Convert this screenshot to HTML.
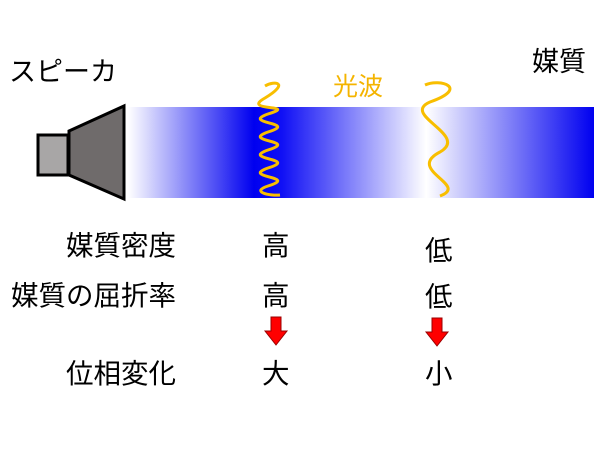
<!DOCTYPE html>
<html><head><meta charset="utf-8"><style>
html,body{margin:0;padding:0;background:#fff;}
svg{display:block}
text{font-family:"Liberation Sans","Noto Sans CJK JP",sans-serif;}
</style></head><body>
<svg width="600" height="450" viewBox="0 0 600 450">
<defs>
<linearGradient id="g" x1="128" x2="594" y1="0" y2="0" gradientUnits="userSpaceOnUse">
<stop offset="0" stop-color="#fff"/>
<stop offset="0.27" stop-color="#0000f0"/>
<stop offset="0.33" stop-color="#1010f5"/>
<stop offset="0.64" stop-color="#ffffff"/>
<stop offset="1" stop-color="#0000f0"/>
</linearGradient>
</defs>
<rect x="128" y="107" width="466" height="91" fill="url(#g)"/>
<rect x="43" y="147" width="30" height="40" fill="#a8a6a6" stroke="#000" stroke-width="3" transform="translate(-5,-12)"/>
<polygon points="69,131 124,106 124,199 69,175" fill="#6f6b6b" stroke="#000" stroke-width="3"/>
<path d="M265,86 C275,80 290,83 265,98 C240,112 300,104 268,114 C240,124 300,122 268,132 C240,142 300,140 268,150 C240,160 300,158 268,168 C240,178 300,176 268,186 C250,192 270,196 280,195" fill="none" stroke="#f8be00" stroke-width="3"/>
<path d="M425,85 C440,78 470,88 430,102 C400,115 470,135 440,152 C405,170 470,185 440,196" fill="none" stroke="#f8be00" stroke-width="3"/>
<text x="9" y="81" font-size="27" fill="#000">スピーカ</text>
<text x="532" y="71" font-size="27" fill="#000">媒質</text>
<text x="333" y="95" font-size="25" fill="#f4b400">光波</text>
<g font-size="27.5" fill="#000">
<text x="176" y="255" text-anchor="end">媒質密度</text>
<text x="176" y="305" text-anchor="end">媒質の屈折率</text>
<text x="176" y="383" text-anchor="end">位相変化</text>
<text x="262" y="255">高</text>
<text x="262" y="305">高</text>
<text x="262" y="383">大</text>
<text x="425" y="260">低</text>
<text x="425" y="306">低</text>
<text x="425" y="383">小</text>
</g>
<polygon points="271,317 281,317 281,331 287,331 276,345 265,331 271,331" fill="#f00" stroke="#900" stroke-width="1"/>
<polygon points="432,318 442,318 442,332 448,332 437,346 426,332 432,332" fill="#f00" stroke="#900" stroke-width="1"/>
</svg>
</body></html>
